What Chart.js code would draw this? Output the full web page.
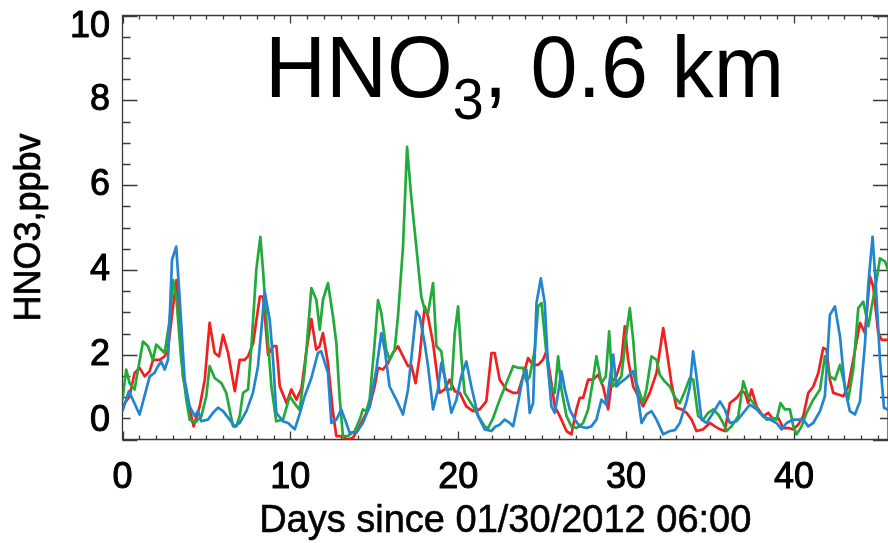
<!DOCTYPE html>
<html>
<head>
<meta charset="utf-8">
<script src="https://cdn.jsdelivr.net/npm/chart.js@4/dist/chart.umd.min.js"></script>
<style>
  html, body { margin: 0; padding: 0; background: #ffffff; }
  #wrap { width: 888px; height: 543px; }
</style>
</head>
<body>
<div id="wrap"><canvas id="c" width="888" height="543"></canvas></div>
<script>
// HNO3 mixing ratio at 0.6 km, three runs, sampled in days since start
const redDays = [0,0.42,0.72,1.02,1.32,1.62,1.82,2.21,2.51,2.71,3.01,3.21,3.41,3.6,4.0,4.24,4.6,4.9,5.19,5.49,5.75,5.99,6.29,6.69,6.98,7.28,7.48,7.78,8.18,8.38,8.67,8.97,9.17,9.37,9.77,10.06,10.36,10.66,10.96,11.25,11.54,11.74,11.94,12.24,12.54,12.74,13.03,13.43,13.73,14.03,14.32,14.72,15.02,15.22,15.52,15.81,16.11,16.41,16.71,17.01,17.2,17.46,17.7,18.0,18.2,18.5,18.7,18.89,19.19,19.49,19.79,20.09,20.48,20.88,21.28,21.67,21.98,22.17,22.47,22.87,23.27,23.56,23.86,24.16,24.46,24.76,25.05,25.25,25.55,25.75,26.05,26.45,26.74,27.04,27.24,27.44,27.74,28.03,28.33,28.63,28.93,29.13,29.42,29.72,29.92,30.12,30.42,30.72,31.01,31.41,31.81,32.21,32.41,32.71,33.0,33.3,33.6,33.9,34.19,34.59,34.99,35.29,35.59,35.88,36.18,36.58,36.88,37.08,37.27,37.47,37.77,38.17,38.47,38.76,39.06,39.36,39.66,39.96,40.25,40.55,40.85,41.15,41.45,41.74,41.94,42.14,42.34,42.64,42.94,43.23,43.53,43.93,44.23,44.52,44.72,45.02,45.22,45.6];
const redVals = [0.78,1.02,1.57,1.69,1.49,1.61,1.88,1.88,1.96,2.12,3.14,3.76,2.82,1.49,0.71,0.31,0.78,1.41,2.75,2.04,1.96,2.47,2.04,1.14,1.88,1.88,1.96,2.27,3.37,3.37,2.0,2.2,2.2,1.25,0.86,1.18,0.94,1.2,2.1,2.84,2.12,2.2,2.51,1.8,0.63,0.08,0.08,0.0,0.04,0.24,0.47,0.78,1.25,1.69,1.65,1.8,2.04,2.2,1.96,1.73,1.76,1.33,1.96,3.14,2.9,2.27,1.65,1.1,1.18,1.41,1.14,1.1,0.78,0.67,0.71,0.9,2.04,2.04,1.41,1.18,1.1,1.1,1.49,1.92,1.76,1.76,1.88,2.08,1.33,0.78,0.55,0.2,0.12,0.71,0.98,0.98,1.41,1.41,1.53,1.25,0.71,1.33,1.49,1.88,2.67,1.88,1.25,1.02,0.78,1.1,1.57,2.63,2.12,1.3,0.75,0.71,0.63,0.47,0.2,0.24,0.39,0.31,0.24,0.2,0.86,0.98,1.14,1.1,0.86,1.18,0.78,0.55,0.63,0.47,0.51,0.27,0.27,0.24,0.35,0.55,1.1,1.25,1.57,2.16,2.12,1.41,1.1,1.06,1.02,1.25,1.88,2.75,2.51,3.85,3.61,2.51,2.35,2.35];

const greenDays = [0,0.22,0.42,0.72,1.22,1.52,1.81,2.01,2.51,2.81,3.01,3.2,3.5,3.8,4.0,4.3,4.7,4.99,5.19,5.49,5.89,6.18,6.58,6.78,6.98,7.18,7.48,7.68,7.97,8.21,8.37,8.57,8.87,9.16,9.56,9.96,10.16,10.55,10.85,11.25,11.55,11.75,11.94,12.24,12.54,12.74,12.93,13.13,13.43,13.83,14.13,14.32,14.52,14.72,15.02,15.22,15.42,15.71,15.91,16.21,16.41,16.71,16.95,17.2,17.5,17.8,18.0,18.2,18.5,18.7,18.99,19.29,19.59,19.79,19.99,20.18,20.38,20.88,21.28,21.58,21.78,22.07,22.47,22.87,23.27,23.56,23.86,24.06,24.26,24.56,24.76,24.96,25.25,25.45,25.75,25.95,26.15,26.45,26.74,27.04,27.44,27.74,28.03,28.23,28.53,28.79,28.99,29.19,29.42,29.72,30.02,30.22,30.42,30.62,31.01,31.21,31.51,31.81,32.01,32.3,32.6,32.9,33.2,33.5,33.8,34.0,34.29,34.59,34.89,35.19,35.49,35.78,35.98,36.28,36.68,36.98,37.27,37.57,37.97,38.37,38.76,38.96,39.2,39.46,39.76,39.96,40.15,40.45,40.75,41.15,41.55,41.84,42.14,42.44,42.74,43.04,43.23,43.53,43.83,44.13,44.43,44.63,44.92,45.12,45.42,45.6];
const greenVals = [0.94,1.65,1.33,1.18,2.31,2.2,1.88,2.24,2.04,2.82,3.76,3.37,1.88,0.94,0.47,0.39,0.55,1.02,1.73,1.45,1.33,1.1,0.31,0.31,0.55,1.1,1.18,2.2,4.0,4.78,4.0,2.82,1.25,0.43,0.47,1.02,0.9,0.7,1.6,3.57,3.29,2.59,3.29,3.69,2.9,2.27,1.02,0.08,0.08,0.2,0.47,0.71,0.67,0.94,2.27,3.29,2.98,2.12,1.88,2.12,2.9,4.55,6.9,5.73,4.55,3.37,3.06,2.98,3.69,2.2,2.08,1.18,1.18,2.51,3.14,1.96,1.1,0.78,0.5,0.3,0.27,0.5,0.94,1.33,1.73,1.69,1.69,1.37,1.49,2.12,3.14,3.22,2.04,1.33,1.1,1.96,1.18,0.55,0.31,0.27,0.39,0.71,1.41,1.96,1.33,1.49,2.55,1.25,1.33,1.49,2.51,3.1,2.35,1.33,0.86,1.18,1.96,1.88,1.52,1.37,1.25,1.0,0.86,1.14,1.45,1.41,0.55,0.47,0.63,0.71,0.59,0.39,0.2,0.31,0.55,1.37,1.02,0.86,0.63,0.47,0.51,0.47,0.86,0.71,0.71,0.31,0.12,0.31,0.63,0.94,1.18,1.96,1.49,1.41,1.76,1.25,0.94,1.65,3.1,3.25,2.67,3.14,3.76,4.27,4.2,4.0];

const blueDays = [0,0.38,1.02,1.62,1.91,2.11,2.31,2.51,2.71,2.95,3.2,3.4,3.7,4.0,4.3,4.5,4.7,5.09,5.39,5.69,5.99,6.38,6.68,6.98,7.38,7.77,8.07,8.27,8.47,8.77,8.97,9.16,9.56,9.86,10.26,10.55,10.85,11.25,11.64,11.84,12.24,12.44,12.74,13.03,13.33,13.53,13.93,14.32,14.72,15.12,15.42,15.62,15.91,16.31,16.71,17.01,17.3,17.5,17.7,18.0,18.2,18.5,18.79,18.99,19.29,19.59,19.89,20.18,20.48,20.78,21.18,21.58,21.97,22.2,22.47,22.77,23.07,23.27,23.56,23.86,24.06,24.26,24.46,24.66,24.92,25.15,25.35,25.55,25.75,25.95,26.15,26.35,26.64,26.94,27.24,27.64,27.93,28.23,28.53,28.83,29.03,29.23,29.42,29.62,30.02,30.42,30.62,30.92,31.21,31.51,31.81,32.21,32.6,32.9,33.2,33.6,33.8,33.99,34.19,34.49,34.79,35.19,35.59,35.88,36.18,36.58,36.98,37.37,37.77,38.17,38.57,38.96,39.26,39.56,39.96,40.55,40.85,41.15,41.55,41.84,42.14,42.44,42.74,43.04,43.33,43.63,43.93,44.23,44.43,44.68,44.88,45.12,45.36,45.6];
const blueVals = [0.67,1.14,0.59,1.49,1.57,1.73,1.84,1.65,1.88,4.24,4.55,3.37,1.41,0.78,0.55,0.67,0.43,0.47,0.63,0.75,0.67,0.47,0.31,0.39,0.67,1.1,1.73,2.59,3.49,2.82,1.88,0.63,0.43,0.39,0.24,0.6,1.02,1.45,2.04,2.08,1.57,0.39,0.47,0.71,0.39,0.16,0.16,0.39,0.78,1.65,2.51,2.12,1.25,0.94,0.59,1.18,2.27,3.02,2.9,2.27,1.73,0.71,1.18,1.8,1.33,0.63,0.94,1.49,1.84,1.25,0.55,0.24,0.2,0.3,0.35,0.47,0.39,0.31,0.86,1.49,1.65,0.63,0.86,3.22,3.8,3.22,1.73,0.78,0.63,1.1,1.61,1.18,0.71,0.47,0.31,0.27,0.31,0.47,0.94,0.82,1.41,2.0,1.25,1.33,1.45,1.61,1.25,0.39,0.59,0.67,0.47,0.12,0.2,0.22,0.39,0.9,1.25,2.08,1.49,0.47,0.39,0.63,0.9,0.71,0.39,0.43,0.63,0.82,0.71,0.55,0.47,0.39,0.24,0.39,0.47,0.47,0.31,0.39,0.67,1.02,2.94,3.14,2.43,1.18,0.67,0.59,0.9,2.27,3.69,4.78,3.61,1.88,0.75,0.7];

const xTickLabels = [0, 10, 20, 30, 40];
const yTickLabels = [0, 2, 4, 6, 8, 10];

const titleBase = 'HNO';
const titleSub = '3';
const titleRest = ', 0.6 km';
const xAxisTitle = 'Days since 01/30/2012 06:00';
const yAxisTitle = 'HNO3,ppbv';

const FONT = '"Liberation Sans", Arial, Helvetica, sans-serif';

function pairs(days, vals) {
  return days.map((d, i) => ({ x: d, y: vals[i] }));
}

// text with a thin outline in the fill colour, for a slightly heavier stroke
function heavyText(ctx, s, x, y, w) {
  ctx.lineWidth = w;
  ctx.strokeStyle = ctx.fillStyle;
  ctx.lineJoin = 'round';
  ctx.strokeText(s, x, y);
  ctx.fillText(s, x, y);
}

// Box frame with inward ticks on all four sides, tick labels and titles
const framePlugin = {
  id: 'idlFrame',
  beforeDatasetsDraw(chart) {
    const { ctx, chartArea: a, scales: { x, y } } = chart;
    ctx.save();
    ctx.strokeStyle = '#3a3a3a';
    ctx.lineWidth = 1.3;
    ctx.beginPath();
    ctx.rect(a.left, a.top, a.right - a.left, a.bottom - a.top);
    ctx.stroke();

    ctx.beginPath();
    for (let d = 0; d <= Math.floor(x.max); d++) {
      const px = Math.round(x.getPixelForValue(d)) + 0.5;
      const len = d % 10 === 0 ? 8 : 4;
      ctx.moveTo(px, a.bottom); ctx.lineTo(px, a.bottom - len);
      ctx.moveTo(px, a.top); ctx.lineTo(px, a.top + len);
    }
    for (let k = 0; k <= 20; k++) {
      const v = k * 0.5;
      const py = Math.round(y.getPixelForValue(v)) + 0.5;
      const len = k % 4 === 0 ? 15 : 8;
      ctx.moveTo(a.left, py); ctx.lineTo(a.left + len, py);
      ctx.moveTo(a.right, py); ctx.lineTo(a.right - len, py);
    }
    ctx.stroke();
    ctx.restore();
  },
  afterDraw(chart) {
    const { ctx, chartArea: a, scales: { x, y } } = chart;
    ctx.save();
    ctx.fillStyle = '#000000';

    // y tick labels (end labels nudged inward, as on the original axis)
    ctx.font = '36px ' + FONT;
    ctx.textAlign = 'right';
    ctx.textBaseline = 'middle';
    yTickLabels.forEach(v => {
      let py = y.getPixelForValue(v);
      if (v === y.max) py += 12;
      if (v === y.min) py -= 18;
      heavyText(ctx, String(v), 110, py, 1.0);
    });

    // x tick labels
    ctx.textAlign = 'center';
    ctx.textBaseline = 'middle';
    xTickLabels.forEach(d => {
      heavyText(ctx, String(d), x.getPixelForValue(d), 478, 1.0);
    });

    // x axis title
    ctx.font = '38px ' + FONT;
    ctx.textBaseline = 'alphabetic';
    heavyText(ctx, xAxisTitle, (a.left + a.right) / 2, 532, 0.6);

    // y axis title
    ctx.save();
    ctx.translate(40, (a.top + a.bottom) / 2);
    ctx.rotate(-Math.PI / 2);
    ctx.font = '36px ' + FONT;
    ctx.textAlign = 'center';
    ctx.textBaseline = 'alphabetic';
    heavyText(ctx, yAxisTitle, 0, 0, 0.8);
    ctx.restore();

    // main title with subscript
    const bigFont = '88px ' + FONT;
    const subFont = '58px ' + FONT;
    ctx.textAlign = 'left';
    ctx.textBaseline = 'alphabetic';
    ctx.font = bigFont;
    const w1 = ctx.measureText(titleBase).width;
    const w3 = ctx.measureText(titleRest).width;
    ctx.font = subFont;
    const w2 = ctx.measureText(titleSub).width;
    const total = w1 + w2 + w3;
    const targetLeft = 265, targetWidth = 519;
    const sx = targetWidth / total;
    ctx.save();
    ctx.translate(targetLeft, 97);
    ctx.scale(sx, 1);
    ctx.font = bigFont;
    ctx.fillText(titleBase, 0, 0);
    ctx.font = subFont;
    ctx.fillText(titleSub, w1, 22);
    ctx.font = bigFont;
    ctx.fillText(titleRest, w1 + w2, 0);
    ctx.restore();

    ctx.restore();
  }
};

const lineStyle = {
  borderWidth: 2.7,
  pointRadius: 0,
  tension: 0,
  fill: false,
  borderJoinStyle: 'round',
  borderCapStyle: 'round'
};

new Chart(document.getElementById('c'), {
  type: 'line',
  data: {
    datasets: [
      Object.assign({ label: 'blue', data: pairs(blueDays, blueVals), borderColor: '#2385d0' }, lineStyle),
      Object.assign({ label: 'green', data: pairs(greenDays, greenVals), borderColor: '#22aa3a' }, lineStyle),
      Object.assign({ label: 'red', data: pairs(redDays, redVals), borderColor: '#f21f1f' }, lineStyle)
    ]
  },
  options: {
    responsive: false,
    animation: false,
    events: [],
    layout: { padding: { left: 122.5, right: 0, top: 15.5, bottom: 103.5 } },
    scales: {
      x: { type: 'linear', min: 0, max: 45.6, display: false },
      y: { type: 'linear', min: 0, max: 10, display: false }
    },
    plugins: {
      legend: { display: false },
      tooltip: { enabled: false },
      title: { display: false }
    }
  },
  plugins: [framePlugin]
});
</script>
</body>
</html>
